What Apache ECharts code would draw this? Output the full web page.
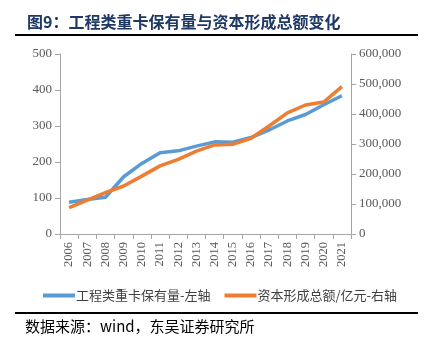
<!DOCTYPE html>
<html><head><meta charset="utf-8">
<script src="https://cdn.jsdelivr.net/npm/echarts@6/dist/echarts.min.js"></script>
<style>html,body{margin:0;padding:0;background:#fff}#c{width:427px;height:348px}</style>
</head><body><div id="c"></div>
<script>
const years = ['2006','2007','2008','2009','2010','2011','2012','2013','2014','2015','2016','2017','2018','2019','2020','2021'];
const truckStock = [88,96,102,159,196,226,231,244,256,255,268,289,314,332,359,384];
const capitalFormation = [88000,113000,138000,160000,193000,227000,249000,276000,297000,299000,319000,360000,404000,430000,440000,491000];
const leftTicks = [0,100,200,300,400,500];
const rightTicks = [0,100000,200000,300000,400000,500000,600000];
const seriesNames = ['工程类重卡保有量-左轴','资本形成总额/亿元-右轴'];

const chart = echarts.init(document.getElementById('c'));
const serif = '"Liberation Serif","Times New Roman",serif';
const axisColor = '#a6a6a6';
const labelColor = '#595959';
chart.setOption({
  animation:false,
  title:{text:'图9：工程类重卡保有量与资本形成总额变化',left:22,top:9,
    textStyle:{fontFamily:'"Noto Sans CJK SC"',fontWeight:'bold',fontSize:16,color:'#1f3864'}},
  graphic:[
    {type:'line',shape:{x1:15,y1:35,x2:418,y2:35},style:{stroke:'#000',lineWidth:2}},
    {type:'line',shape:{x1:15,y1:313,x2:418,y2:313},style:{stroke:'#000',lineWidth:2}},
    {type:'text',left:25,top:319,style:{text:'数据来源：wind，东吴证券研究所',font:'15px "Noto Sans CJK SC"',fill:'#000'}}
  ],
  legend:{left:38,top:284,itemWidth:32,itemHeight:4,itemGap:14,icon:'rect',
    textStyle:{fontFamily:'"Noto Sans CJK SC"',fontSize:13,color:'#404040',padding:[0,0,0,-4]},
    data:seriesNames},
  grid:{left:60,right:76,top:54,bottom:114},
  xAxis:{type:'category',data:years,boundaryGap:true,
    axisLine:{lineStyle:{color:axisColor}},
    axisTick:{show:true,alignWithLabel:false,length:5,lineStyle:{color:axisColor}},
    axisLabel:{rotate:90,fontFamily:serif,fontSize:12.5,color:labelColor,margin:8}},
  yAxis:[
    {type:'value',min:0,max:500,interval:100,position:'left',
      axisLine:{show:true,lineStyle:{color:axisColor}},
      axisTick:{show:true,length:5,lineStyle:{color:axisColor}},
      splitLine:{show:false},
      axisLabel:{fontFamily:serif,fontSize:13,color:labelColor,margin:8}},
    {type:'value',min:0,max:600000,interval:100000,position:'right',
      axisLine:{show:true,lineStyle:{color:axisColor}},
      axisTick:{show:true,length:5,lineStyle:{color:axisColor}},
      splitLine:{show:false},
      axisLabel:{fontFamily:serif,fontSize:13,color:labelColor,margin:8,
        formatter:v=>v.toLocaleString('en-US')}}
  ],
  series:[
    {name:seriesNames[0],type:'line',yAxisIndex:0,data:truckStock,symbol:'none',
      lineStyle:{width:3.5,color:'#5b9bd5'},itemStyle:{color:'#5b9bd5'}},
    {name:seriesNames[1],type:'line',yAxisIndex:1,data:capitalFormation,symbol:'none',
      lineStyle:{width:3.5,color:'#ed7d31'},itemStyle:{color:'#ed7d31'}}
  ]
});
</script></body></html>
